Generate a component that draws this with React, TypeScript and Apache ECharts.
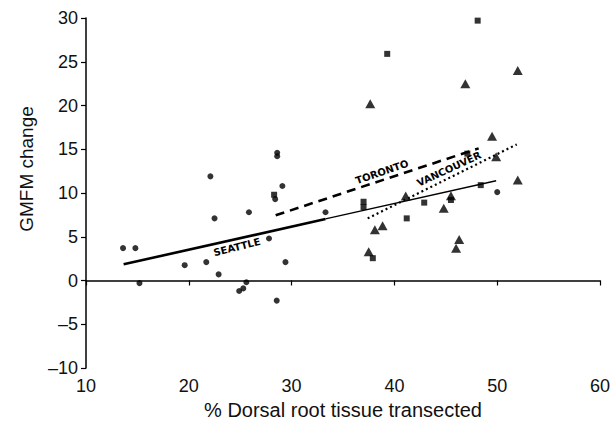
import React, { useEffect, useRef } from "react";
import * as echarts from "echarts";

const xTicks = [10, 20, 30, 40, 50, 60];
const yTicks = [-10, -5, 0, 5, 10, 15, 20, 25, 30];

const seattlePoints: [number, number][] = [
  [13.6, 3.7], [14.8, 3.7], [15.2, -0.3], [19.6, 1.75], [21.7, 2.1], [22.1, 11.9],
  [22.5, 7.1], [22.9, 0.7], [24.9, -1.2], [25.3, -0.9], [25.6, -0.2], [25.85, 7.8],
  [27.8, 4.8], [28.4, 9.3], [28.55, -2.3], [28.6, 14.2], [28.6, 14.6], [29.1, 10.8],
  [29.4, 2.1], [33.3, 7.8], [50.0, 10.1],
];
const torontoPoints: [number, number][] = [
  [28.3, 9.8], [37.0, 8.4], [37.0, 9.0], [37.9, 2.55], [39.3, 25.9], [41.2, 7.1],
  [42.9, 8.9], [45.5, 9.2], [47.1, 14.5], [48.1, 29.7], [48.4, 10.9],
];
const vancouverPoints: [number, number][] = [
  [37.5, 3.3], [37.65, 20.2], [38.1, 5.8], [38.85, 6.25], [41.1, 9.65], [44.8, 8.25],
  [45.5, 9.7], [46.0, 3.7], [46.3, 4.7], [46.9, 22.5], [49.5, 16.5], [49.9, 14.15],
  [52.0, 24.0], [52.0, 11.5],
];

const seattleFitThick: [number, number][] = [[13.66, 1.85], [33.3, 7.03]];
const seattleFitThin: [number, number][] = [[33.3, 7.03], [49.9, 11.4]];
const torontoFit: [number, number][] = [[28.45, 7.45], [48.2, 15.1]];
const vancouverFit: [number, number][] = [[37.4, 7.1], [51.9, 15.55]];

const FONT = "'Liberation Sans', Arial, Helvetica, sans-serif";
const LBL = "bold 10px 'DejaVu Sans', Verdana, sans-serif";

export default function App() {
  const ref = useRef<HTMLDivElement>(null);
  useEffect(() => {
    if (!ref.current) return;
    const chart = echarts.init(ref.current, undefined, { renderer: "svg" });
    const deg = Math.PI / 180;
    chart.setOption({
      animation: false,
      backgroundColor: "#fff",
      grid: { left: 86, right: 11, top: 18, bottom: 55, containLabel: false, outerBoundsMode: "none" },
      xAxis: {
        type: "value",
        min: xTicks[0],
        max: xTicks[xTicks.length - 1],
        interval: 10,
        name: "% Dorsal root tissue transected",
        nameLocation: "middle",
        nameGap: 29,
        nameTextStyle: { fontFamily: FONT, fontSize: 20, color: "#111" },
        axisLine: { lineStyle: { color: "#000", width: 1.5 } },
        axisTick: { show: true, length: 5, lineStyle: { color: "#000", width: 1.2 } },
        axisLabel: { fontFamily: FONT, fontSize: 18, color: "#111", margin: 9 },
        splitLine: { show: false },
      },
      yAxis: {
        type: "value",
        min: yTicks[0],
        max: yTicks[yTicks.length - 1],
        interval: 5,
        axisLine: { show: true, lineStyle: { color: "#000", width: 1.5 } },
        axisTick: { show: true, length: 5, lineStyle: { color: "#000", width: 1.2 } },
        axisLabel: {
          fontFamily: FONT,
          fontSize: 18,
          color: "#111",
          margin: 8,
          formatter: (v: number) => String(v).replace("-", "\u2013"),
        },
        splitLine: { show: false },
      },
      graphic: [
        {
          type: "text",
          x: 26,
          y: 169,
          rotation: 90 * deg,
          style: {
            text: "GMFM change",
            font: `19px ${FONT}`,
            fill: "#111",
            textAlign: "center",
            textVerticalAlign: "middle",
          },
        },
        {
          type: "text",
          x: 382,
          y: 172,
          rotation: 19 * deg,
          style: { text: "TORONTO", font: LBL, fill: "#000", textAlign: "center", textVerticalAlign: "middle" },
        },
        {
          type: "text",
          x: 449,
          y: 169,
          rotation: 25 * deg,
          style: { text: "VANCOUVER", font: LBL, fill: "#000", textAlign: "center", textVerticalAlign: "middle" },
        },
        {
          type: "text",
          x: 237,
          y: 247,
          rotation: 14 * deg,
          style: { text: "SEATTLE", font: LBL, fill: "#000", textAlign: "center", textVerticalAlign: "middle" },
        },
      ],
      series: [
        {
          type: "line",
          data: seattleFitThick,
          symbol: "none",
          lineStyle: { color: "#000", width: 2.6 },
        },
        {
          type: "line",
          data: seattleFitThin,
          symbol: "none",
          lineStyle: { color: "#000", width: 1.3 },
        },
        {
          type: "line",
          data: torontoFit,
          symbol: "none",
          lineStyle: { color: "#000", width: 2.6, type: [9, 6] },
        },
        {
          type: "line",
          data: vancouverFit,
          symbol: "none",
          lineStyle: { color: "#000", width: 2.2, type: [2, 3] },
        },
        {
          type: "scatter",
          data: seattlePoints,
          symbol: "circle",
          symbolSize: 6,
          itemStyle: { color: "#000" },
        },
        {
          type: "scatter",
          data: torontoPoints,
          symbol: "rect",
          symbolSize: 6,
          itemStyle: { color: "#000" },
        },
        {
          type: "scatter",
          data: vancouverPoints,
          symbol: "triangle",
          symbolSize: [10, 9],
          itemStyle: { color: "#000" },
        },
      ],
    });
    return () => chart.dispose();
  }, []);
  return <div ref={ref} style={{ width: 611, height: 423, position: "absolute", left: 0, top: 0 }} />;
}
